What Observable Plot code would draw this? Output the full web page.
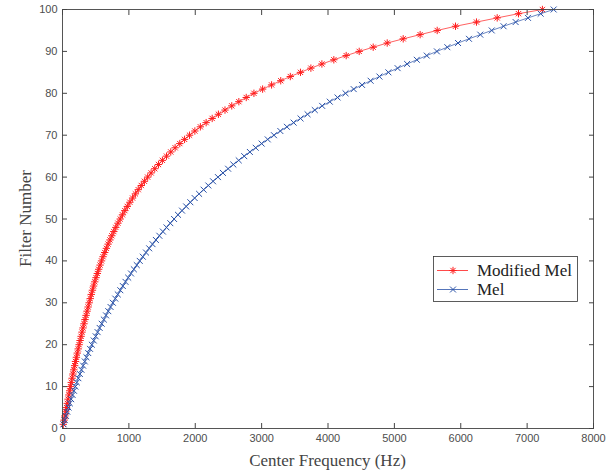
<!DOCTYPE html>
<html><head><meta charset="utf-8">
<script src="https://cdn.jsdelivr.net/npm/d3@7"></script>
<script src="https://cdn.jsdelivr.net/npm/@observablehq/plot@0.6"></script>
<style>html,body{margin:0;padding:0;background:#fff} svg{display:block}</style>
</head><body><div id="chart"></div>
<script>
const filterNumbers = [1,2,3,4,5,6,7,8,9,10,11,12,13,14,15,16,17,18,19,20,21,22,23,24,25,26,27,28,29,30,31,32,33,34,35,36,37,38,39,40,41,42,43,44,45,46,47,48,49,50,51,52,53,54,55,56,57,58,59,60,61,62,63,64,65,66,67,68,69,70,71,72,73,74,75,76,77,78,79,80,81,82,83,84,85,86,87,88,89,90,91,92,93,94,95,96,97,98,99,100];
const modMelFreq = [12,24,36,48,60,72,84,96,108,120,132,145,157,170,183,196,210,223,237,251,265,280,294,309,324,339,355,370,386,402,418,434,451,468,486,505,525,545,566,588,611,636,661,687,715,743,773,803,835,869,903,939,976,1015,1056,1098,1141,1187,1234,1283,1335,1390,1446,1505,1567,1631,1697,1767,1839,1914,1994,2077,2164,2255,2349,2448,2550,2657,2768,2884,3015,3150,3288,3432,3585,3742,3908,4088,4274,4470,4681,4892,5133,5388,5645,5921,6237,6549,6870,7230];
const melFreq = [17,35,53,72,91,111,131,152,173,194,216,239,262,286,311,336,361,388,415,442,471,500,529,560,591,623,656,690,724,759,795,833,871,909,949,990,1032,1075,1119,1164,1210,1258,1306,1356,1407,1459,1513,1567,1624,1681,1740,1801,1863,1926,1991,2058,2126,2197,2268,2342,2417,2495,2574,2655,2738,2823,2911,3000,3092,3186,3282,3381,3482,3586,3692,3801,3912,4027,4144,4264,4387,4513,4642,4775,4910,5049,5192,5338,5488,5641,5798,5959,6124,6294,6467,6645,6827,7013,7204,7400];
const seriesNames = ["Modified Mel", "Mel"];
const xTicks = [0,1000,2000,3000,4000,5000,6000,7000,8000];
const yTicks = [0,10,20,30,40,50,60,70,80,90,100];
const xTitle = "Center Frequency (Hz)";
const yTitle = "Filter Number";

const RED = "#ff1c1c", BLUE = "#2a52a8", AX = "#444", LBL = "#4d4d4d";
const modData = filterNumbers.map((n, i) => ({f: modMelFreq[i], n}));
const melData = filterNumbers.map((n, i) => ({f: melFreq[i], n}));

const W = 614, H = 470, mL = 62, mR = 21, mT = 9, mB = 42;
const serif = "'Liberation Serif', 'Times New Roman', serif";

const plot = Plot.plot({
  width: W, height: H,
  marginLeft: mL, marginRight: mR, marginTop: mT, marginBottom: mB,
  style: {fontFamily: "'Liberation Sans', Arial, sans-serif", fontSize: "11px", color: LBL, background: "#fff", overflow: "visible"},
  x: {domain: [0, 8000]},
  y: {domain: [0, 100]},
  marks: [
    Plot.line(modData, {x: "f", y: "n", stroke: RED, strokeWidth: 0.7}),
    Plot.dot(modData, {x: "f", y: "n", symbol: "plus", r: 2.5, stroke: RED, strokeWidth: 1, fill: "none"}),
    Plot.dot(modData, {x: "f", y: "n", symbol: "times", r: 2.5, stroke: RED, strokeWidth: 1, fill: "none"}),
    Plot.line(melData, {x: "f", y: "n", stroke: BLUE, strokeWidth: 0.7}),
    Plot.dot(melData, {x: "f", y: "n", symbol: "times", r: 2.8, stroke: BLUE, strokeWidth: 1, fill: "none"}),
    Plot.frame({stroke: AX, strokeWidth: 0.9}),
    Plot.axisX({ticks: xTicks, anchor: "bottom", tickSize: -5, text: null, label: null, stroke: AX}),
    Plot.axisX({ticks: xTicks, anchor: "top", tickSize: -5, text: null, label: null, stroke: AX}),
    Plot.axisY({ticks: yTicks, anchor: "left", tickSize: -5, text: null, label: null, stroke: AX}),
    Plot.axisY({ticks: yTicks, anchor: "right", tickSize: -5, text: null, label: null, stroke: AX}),
    Plot.axisX({ticks: xTicks, anchor: "bottom", tickSize: 0, tickPadding: 6, label: null, tickFormat: d => String(d), fill: LBL}),
    Plot.axisY({ticks: yTicks, anchor: "left", tickSize: 0, tickPadding: 5, label: null, tickFormat: d => String(d), fill: LBL})
  ]
});

const svg = d3.select(plot);
const xs = plot.scale("x"), ys = plot.scale("y");
const xMid = (xs.range[0] + xs.range[1]) / 2;
const yMid = (ys.range[0] + ys.range[1]) / 2;

svg.append("text").attr("x", xMid).attr("y", H - 4)
  .attr("text-anchor", "middle").attr("font-family", serif).attr("font-size", 17).attr("fill", AX)
  .text(xTitle);
svg.append("text").attr("transform", `translate(31,${yMid}) rotate(-90)`)
  .attr("text-anchor", "middle").attr("font-family", serif).attr("font-size", 17).attr("fill", AX)
  .text(yTitle);

// legend
const lx = 433, ly = 256, lw = 144, lh = 45;
const g = svg.append("g").attr("text-anchor", "start");
g.append("rect").attr("x", lx + 0.5).attr("y", ly + 0.5).attr("width", lw).attr("height", lh)
  .attr("fill", "#fff").attr("stroke", "#333").attr("stroke-width", 0.8);
const rows = [
  {name: seriesNames[0], color: RED, syms: [[d3.symbolPlus, 2.5], [d3.symbolTimes, 2.5]], y: ly + 14.5},
  {name: seriesNames[1], color: BLUE, syms: [[d3.symbolTimes, 2.8]], y: ly + 33.5}
];
rows.forEach(r => {
  g.append("line").attr("x1", lx + 4).attr("x2", lx + 35).attr("y1", r.y).attr("y2", r.y)
    .attr("stroke", r.color).attr("stroke-width", 0.8);
  r.syms.forEach(([s, rr]) => {
    g.append("path").attr("d", d3.symbol(s, rr * rr * Math.PI)())
      .attr("transform", `translate(${lx + 20},${r.y})`)
      .attr("fill", "none").attr("stroke", r.color).attr("stroke-width", 1);
  });
  g.append("text").attr("x", lx + 44).attr("y", r.y + 5.8).attr("text-anchor", "start")
    .attr("font-family", serif).attr("font-size", 17).attr("fill", "#222").text(r.name);
});

document.getElementById("chart").appendChild(plot);
</script>
</body></html>
